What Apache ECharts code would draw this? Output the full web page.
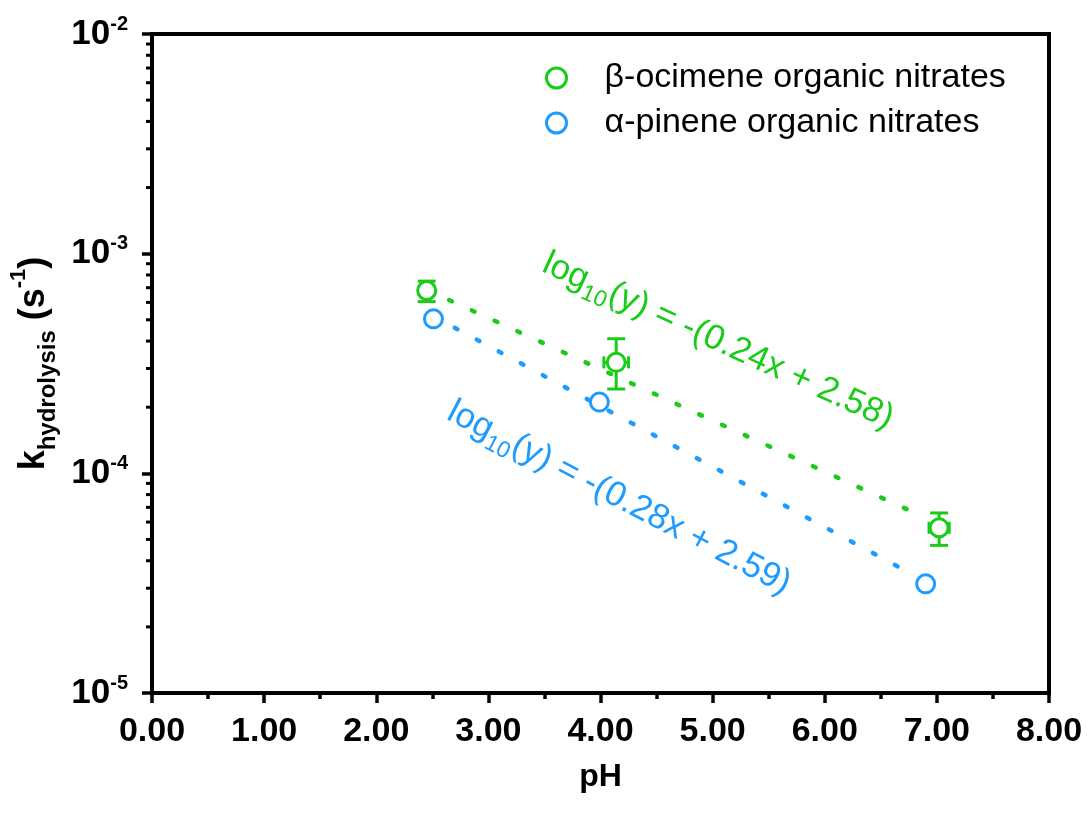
<!DOCTYPE html>
<html>
<head>
<meta charset="utf-8">
<script src="https://cdn.jsdelivr.net/npm/echarts@6/dist/echarts.min.js"></script>
<style>
html,body{margin:0;padding:0;background:#fff;}
#chart{width:1087px;height:814px;}
</style>
</head>
<body>
<div id="chart"></div>
<script>
// ---- data ----
const seriesNames = ['β-ocimene organic nitrates', 'α-pinene organic nitrates'];
const ocimenePH = [2.45, 4.14, 7.02];
const ocimeneK = [6.8e-4, 3.2e-4, 5.65e-5];
const ocimenePHErr = [0.05, 0.11, 0.09];
const ocimeneKLow = [6.05e-4, 2.42e-4, 4.7e-5];
const ocimeneKHigh = [7.5e-4, 4.1e-4, 6.6e-5];
const pinenePH = [2.51, 3.99, 6.90];
const pineneK = [5.05e-4, 2.11e-4, 3.14e-5];
const ocimeneFitPH = [2.65, 6.75];
const ocimeneFitK = [6.15e-4, 6.8e-5];
const pineneFitPH = [2.70, 6.74];
const pineneFitK = [4.6e-4, 3.56e-5];
const ocimeneFitText = ['log', '10', '(y) = -(0.24x + 2.58)'];
const pineneFitText = ['log', '10', '(y) = -(0.28x + 2.59)'];
const xTickMin = 0, xTickMax = 8, xTickStep = 1;
const yTickExponents = [-5, -4, -3, -2];
const yMinorMultipliers = [2, 3, 4, 5, 6, 7, 8, 9];

// ---- styles ----
const GREEN = '#18cc18';
const BLUE = '#1e9bff';
const FONT = '"Liberation Sans", Arial, sans-serif';

const yMin = Math.pow(10, yTickExponents[0]);
const yMax = Math.pow(10, yTickExponents[yTickExponents.length - 1]);
const yMinorValues = [];
for (let i = 0; i < yTickExponents.length - 1; i++) {
  yMinorMultipliers.forEach(m => yMinorValues.push([xTickMin, m * Math.pow(10, yTickExponents[i])]));
}

const ocimenePts = ocimenePH.map((x, i) => [x, ocimeneK[i]]);
const pinenePts = pinenePH.map((x, i) => [x, pineneK[i]]);
const ocimeneErr = ocimenePH.map((x, i) => [x, ocimeneK[i], x - ocimenePHErr[i], x + ocimenePHErr[i], ocimeneKLow[i], ocimeneKHigh[i]]);

function errRender(params, api) {
  const c = api.coord([api.value(0), api.value(1)]);
  const l = api.coord([api.value(2), api.value(1)]);
  const r = api.coord([api.value(3), api.value(1)]);
  const lo = api.coord([api.value(0), api.value(4)]);
  const hi = api.coord([api.value(0), api.value(5)]);
  const st = {stroke: GREEN, lineWidth: 3, fill: null};
  const cw = 9, ch = 6;
  return {
    type: 'group',
    children: [
      {type: 'line', shape: {x1: c[0], y1: lo[1], x2: c[0], y2: hi[1]}, style: st},
      {type: 'line', shape: {x1: c[0] - cw, y1: lo[1], x2: c[0] + cw, y2: lo[1]}, style: st},
      {type: 'line', shape: {x1: c[0] - cw, y1: hi[1], x2: c[0] + cw, y2: hi[1]}, style: st},
      {type: 'line', shape: {x1: l[0], y1: c[1], x2: r[0], y2: c[1]}, style: st},
      {type: 'line', shape: {x1: l[0], y1: c[1] - ch, x2: l[0], y2: c[1] + ch}, style: st},
      {type: 'line', shape: {x1: r[0], y1: c[1] - ch, x2: r[0], y2: c[1] + ch}, style: st}
    ]
  };
}

function minorRender(params, api) {
  const p = api.coord([api.value(0), api.value(1)]);
  return {type: 'line', shape: {x1: p[0] - 6, y1: p[1], x2: p[0], y2: p[1]}, style: {stroke: '#000', lineWidth: 3}};
}

function fitLabel(parts, color) {
  return {
    text: '{a|' + parts[0] + '}{s|' + parts[1] + '}{a|' + parts[2] + '}',
    align: 'center', verticalAlign: 'middle',
    rich: {
      a: {fontSize: 35, fontFamily: FONT, fill: color, color: color, lineHeight: 46, verticalAlign: 'middle'},
      s: {fontSize: 23, fontFamily: FONT, fill: color, color: color, lineHeight: 23, verticalAlign: 'bottom'}
    }
  };
}

const chart = echarts.init(document.getElementById('chart'), null, {renderer: 'canvas'});
const option = {
  backgroundColor: '#fff',
  animation: false,
  grid: {left: 152, right: 38, top: 34, bottom: 121, show: true, borderColor: '#000', borderWidth: 4,
    backgroundColor: 'transparent', containLabel: false, outerBoundsMode: 'none'},
  legend: {
    orient: 'vertical', left: 540, top: 56, itemGap: 11, itemWidth: 20, itemHeight: 20,
    textStyle: {fontSize: 34, fontFamily: FONT, color: '#000', padding: [0, 0, 0, 33]},
    data: [
      {name: seriesNames[0], icon: 'circle', itemStyle: {color: '#fff', borderColor: GREEN, borderWidth: 3}},
      {name: seriesNames[1], icon: 'circle', itemStyle: {color: '#fff', borderColor: BLUE, borderWidth: 3}}
    ]
  },
  xAxis: {
    type: 'value', min: xTickMin, max: xTickMax, interval: xTickStep,
    name: 'pH', nameLocation: 'middle', nameGap: 68,
    nameTextStyle: {fontSize: 32, fontWeight: 'bold', fontFamily: FONT, color: '#000'},
    axisLine: {show: true, onZero: false, lineStyle: {color: '#000', width: 4}},
    axisTick: {show: true, length: 10, lineStyle: {color: '#000', width: 3.5}},
    minorTick: {show: true, splitNumber: 2, length: 6, lineStyle: {color: '#000', width: 3.5}},
    splitLine: {show: false},
    axisLabel: {fontSize: 34, fontWeight: 'bold', fontFamily: FONT, color: '#000', margin: 22,
      formatter: v => v.toFixed(2)}
  },
  yAxis: {
    type: 'log', logBase: 10, min: yMin, max: yMax,
    name: '{k|k}{sub|hydrolysis}{p| (s}{sup|-1}{p|)}', nameLocation: 'middle', nameGap: 92, nameRotate: 90,
    nameTextStyle: {
      color: '#000', fontFamily: FONT,
      rich: {
        k: {fontSize: 36, fontWeight: 'bold', fontFamily: FONT, color: '#000', lineHeight: 52, verticalAlign: 'middle'},
        p: {fontSize: 36, fontWeight: 'bold', fontFamily: FONT, color: '#000', lineHeight: 52, verticalAlign: 'middle'},
        sub: {fontSize: 24, fontWeight: 'bold', fontFamily: FONT, color: '#000', lineHeight: 24, verticalAlign: 'bottom'},
        sup: {fontSize: 22, fontWeight: 'bold', fontFamily: FONT, color: '#000', lineHeight: 24, verticalAlign: 'top'}
      }
    },
    axisLine: {show: true, lineStyle: {color: '#000', width: 4}},
    axisTick: {show: true, length: 10, lineStyle: {color: '#000', width: 3.5}},
    splitLine: {show: false},
    axisLabel: {
      margin: 24, color: '#000',
      formatter: v => '{b|10}{s|' + Math.round(Math.log10(v)) + '}',
      rich: {
        b: {fontSize: 35, fontWeight: 'bold', fontFamily: FONT, color: '#000', lineHeight: 40, verticalAlign: 'middle'},
        s: {fontSize: 20, fontWeight: 'bold', fontFamily: FONT, color: '#000', lineHeight: 20, verticalAlign: 'top'}
      }
    }
  },
  graphic: [
    {type: 'text', x: 718, y: 341, rotation: -24.5 * Math.PI / 180, style: fitLabel(ocimeneFitText, GREEN), z: 10},
    {type: 'text', x: 619, y: 498, rotation: -27.5 * Math.PI / 180, style: fitLabel(pineneFitText, BLUE), z: 10}
  ],
  series: [
    {
      name: 'yMinor', type: 'custom', renderItem: minorRender, data: yMinorValues, clip: false, silent: true, z: 5
    },
    {
      name: 'ocimeneFit', type: 'line', data: ocimeneFitPH.map((x, i) => [x, ocimeneFitK[i]]), symbol: 'none',
      lineStyle: {color: GREEN, width: 4.5, type: [3, 22], cap: 'round'}, silent: true, z: 2
    },
    {
      name: 'pineneFit', type: 'line', data: pineneFitPH.map((x, i) => [x, pineneFitK[i]]), symbol: 'none',
      lineStyle: {color: BLUE, width: 4.5, type: [3, 22], cap: 'round'}, silent: true, z: 2
    },
    {
      name: 'ocimeneErr', type: 'custom', renderItem: errRender, data: ocimeneErr, silent: true, z: 3
    },
    {
      name: seriesNames[0], type: 'scatter', data: ocimenePts, symbol: 'circle', symbolSize: 18,
      itemStyle: {color: '#fff', borderColor: GREEN, borderWidth: 3, opacity: 1}, z: 4
    },
    {
      name: seriesNames[1], type: 'scatter', data: pinenePts, symbol: 'circle', symbolSize: 18,
      itemStyle: {color: '#fff', borderColor: BLUE, borderWidth: 3, opacity: 1}, z: 4
    }
  ]
};
chart.setOption(option);
</script>
</body>
</html>
